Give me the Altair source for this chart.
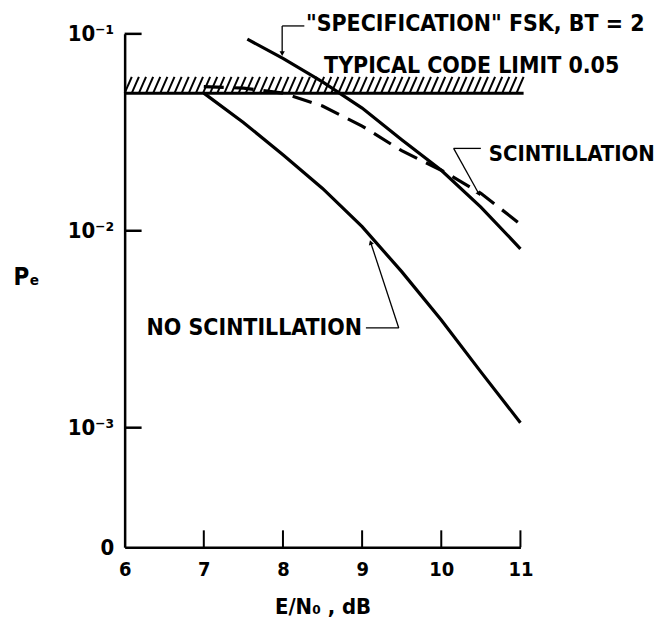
import altair as alt
import pandas as pd
import numpy as np

# ---- data ----
ebno_none = [7.0, 7.5, 8.0, 8.5, 9.0, 9.5, 10.0, 10.5, 11.0]
pe_none = [0.050, 0.0355, 0.0243, 0.0164, 0.0105, 0.0062, 0.00352, 0.00192, 0.00106]

ebno_spec = [7.55, 8.0, 8.5, 9.0, 9.5, 10.0, 10.5, 11.0]
pe_spec = [0.094, 0.075, 0.057, 0.042, 0.029, 0.0203, 0.0132, 0.0081]

ebno_scint = [7.0, 7.5, 8.0, 8.5, 9.0, 9.5, 10.0, 10.5, 11.0]
pe_scint = [0.054, 0.053, 0.050, 0.043, 0.034, 0.0255, 0.0203, 0.0155, 0.0108]

code_limit = 0.05
hatch_top = 0.0605
x_ticks = [6, 7, 8, 9, 10, 11]
y_ticks = [0.1, 0.01, 0.001]
y_min = 2.47e-4
x_min, x_max = 6, 11

FONT = "DejaVu Sans Condensed, DejaVu Sans"
W, H = 397, 515

xs = alt.Scale(domain=[x_min, x_max], nice=False, zero=False)
ys = alt.Scale(type="log", domain=[y_min, 0.1], nice=False)

AX = alt.Axis(
    values=x_ticks, ticks=False, grid=False, domain=True, domainColor="black",
    domainWidth=2.5, labelFont=FONT, labelFontSize=20, labelFontWeight="bold",
    labelColor="black", labelPadding=12, labelFlush=False,
    title="E/N₀ , dB", titleFont=FONT, titleFontSize=22, titleFontWeight="bold",
    titleColor="black", titleY=66, titleBaseline="alphabetic")
AY = alt.Axis(
    values=y_ticks + [y_min], ticks=False, grid=False, domain=True, domainColor="black",
    domainWidth=2.5, labelFont=FONT, labelFontSize=22, labelFontWeight="bold",
    labelColor="black", labelPadding=11, labelFlush=False,
    labelExpr="datum.value > 0.05 ? '10⁻¹' : datum.value > 0.005 ? '10⁻²' : datum.value > 0.0005 ? '10⁻³' : '0'",
    title="Pₑ", titleFont=FONT, titleFontSize=24, titleFontWeight="bold", titleColor="black",
    titleAngle=0, titleX=-112, titleY=244, titleAlign="left", titleBaseline="middle")

def X(f="x"):
    return alt.X(f"{f}:Q", scale=xs, axis=AX)

def Y(f="y"):
    return alt.Y(f"{f}:Q", scale=ys, axis=AY)

df_none = pd.DataFrame({"x": ebno_none, "y": pe_none})
df_spec = pd.DataFrame({"x": ebno_spec, "y": pe_spec})
df_scint = pd.DataFrame({"x": ebno_scint, "y": pe_scint})

ytick_rules = alt.Chart(pd.DataFrame({"y": y_ticks})).mark_rule(color="black", strokeWidth=2.5).encode(
    y=Y(), x=alt.value(0), x2=alt.value(17))
xtick_rules = alt.Chart(pd.DataFrame({"x": x_ticks[1:]})).mark_rule(color="black", strokeWidth=2).encode(
    x=X(), y=alt.value(H), y2=alt.value(H - 17))

# hatched code-limit band
band_end = 11.04
hatch_starts = list(np.arange(x_min, band_end - 0.08, 0.09))
df_hatch = pd.DataFrame({"x": hatch_starts, "x2": [h + 0.09 for h in hatch_starts],
                         "y": [code_limit] * len(hatch_starts), "y2": [hatch_top] * len(hatch_starts)})
hatch = alt.Chart(df_hatch).mark_rule(color="black", strokeWidth=2).encode(
    x=X(), x2="x2:Q", y=Y(), y2="y2:Q")
limit_line = alt.Chart(pd.DataFrame({"x": [x_min], "x2": [band_end], "y": [code_limit]})).mark_rule(
    color="black", strokeWidth=3).encode(x=X(), x2="x2:Q", y=Y())

line_none = alt.Chart(df_none).mark_line(color="black", strokeWidth=3.2).encode(x=X(), y=Y())
line_spec = alt.Chart(df_spec).mark_line(color="black", strokeWidth=3.2).encode(x=X(), y=Y())
line_scint = alt.Chart(df_scint).mark_line(color="black", strokeWidth=3.2, strokeDash=[20, 10]).encode(x=X(), y=Y())

# leader lines (annotation positions in data units)
lead_x = [8.27, 7.99, 10.50, 10.156, 9.048, 9.463]
lead_x2 = [7.99, 7.99, 10.156, 10.471, 9.463, 9.111]
lead_y = [0.1097, 0.1097, 0.0262, 0.0262, 0.00321, 0.00321]
lead_y2 = [0.1097, 0.0801, 0.0262, 0.0155, 0.00321, 0.00865]
leaders = alt.Chart(pd.DataFrame({"x": lead_x, "x2": lead_x2, "y": lead_y, "y2": lead_y2})).mark_rule(
    color="black", strokeWidth=1.3).encode(x=X(), x2="x2:Q", y=Y(), y2="y2:Q")

arrow_x = [7.99, 10.471, 9.111]
arrow_y = [0.0801, 0.0155, 0.00865]
arrow_angle = [180, 151, 342]
arrows = alt.Chart(pd.DataFrame({"x": arrow_x, "y": arrow_y, "a": arrow_angle})).mark_point(
    shape="triangle", filled=True, color="black", size=28, opacity=1).encode(
    x=X(), y=Y(), angle=alt.Angle("a:Q", scale=None))

# text labels
label_text = ['"SPECIFICATION" FSK, BT = 2', "TYPICAL CODE LIMIT 0.05", "NO SCINTILLATION"]
label_x = [8.29, 8.52, 6.277]
label_y = [0.1035, 0.0635, 0.00296]
labels = alt.Chart(pd.DataFrame({"t": label_text, "x": label_x, "y": label_y})).mark_text(
    font=FONT, fontSize=23, fontWeight="bold", align="left", baseline="alphabetic", color="black").encode(
    x=X(), y=Y(), text="t:N")

scint_label = alt.Chart(pd.DataFrame({"t": ["SCINTILLATION"], "x": [10.60], "y": [0.0227]})).mark_text(
    font=FONT, fontSize=22, fontWeight="bold", align="left", baseline="alphabetic", color="black").encode(
    x=X(), y=Y(), text="t:N")

chart = alt.layer(
    hatch, limit_line, line_none, line_spec, line_scint,
    ytick_rules, xtick_rules, leaders, arrows, labels, scint_label
).properties(
    width=W, height=H,
    autosize=alt.AutoSizeParams(type="none"),
    padding={"left": 117, "top": 25, "right": 140, "bottom": 70},
    background="white",
).configure_view(stroke=None)

chart.save("out.html", embed_options={"renderer": "svg", "actions": False})
